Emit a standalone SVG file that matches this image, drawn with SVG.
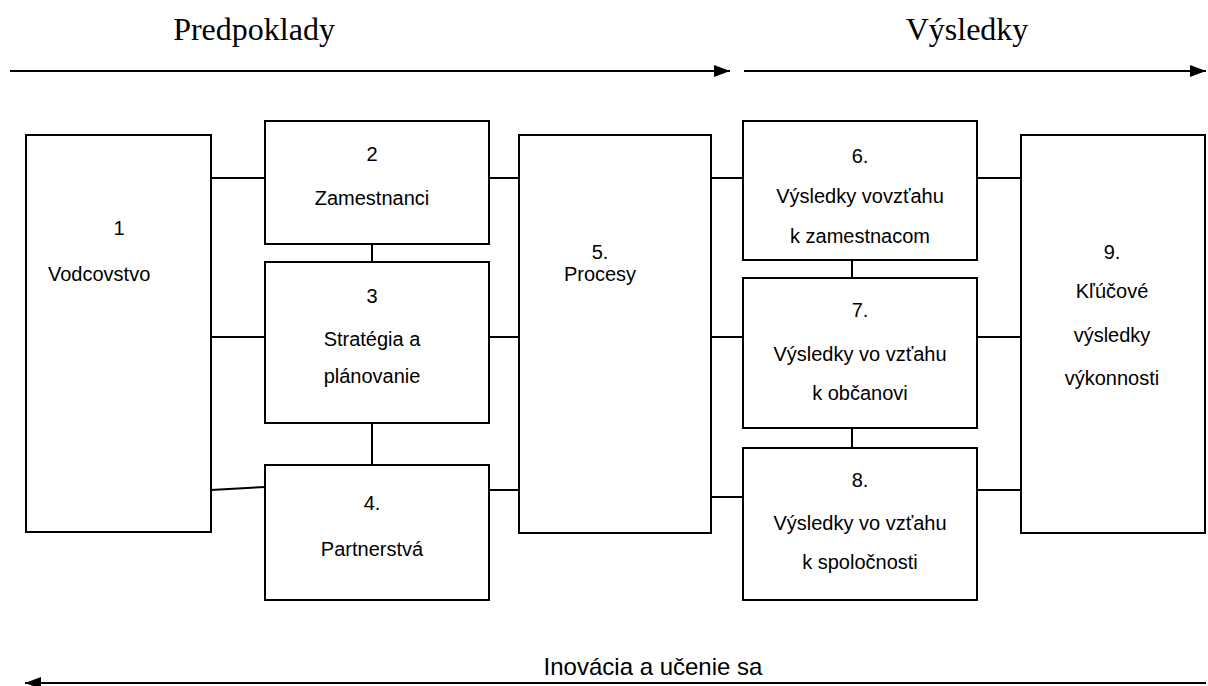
<svg xmlns="http://www.w3.org/2000/svg" width="1208" height="686" viewBox="0 0 1208 686">
<defs>
<style>
.box{fill:#fff;stroke:#000;stroke-width:2}
.ln{stroke:#000;stroke-width:2;fill:none}
.t{font-family:"Liberation Sans",Arial,sans-serif;font-size:20px;fill:#000;text-anchor:middle}
.h{font-family:"Liberation Serif","Times New Roman",serif;font-size:32px;fill:#000;text-anchor:middle}
</style>
<marker id="ah" viewBox="0 0 16 12" refX="16" refY="6" markerWidth="16" markerHeight="12" markerUnits="userSpaceOnUse" orient="auto">
<path d="M0,0 L16,6 L0,12 Z" fill="#000"/>
</marker>
</defs>
<rect width="1208" height="686" fill="#fff"/>
<text class="h" x="254" y="40">Predpoklady</text>
<text class="h" x="967" y="40">Výsledky</text>
<g id="connectors">
<line class="ln" x1="10" y1="71" x2="730" y2="71" marker-end="url(#ah)"/>
<line class="ln" x1="744" y1="71" x2="1206" y2="71" marker-end="url(#ah)"/>
<line class="ln" x1="1206" y1="683" x2="25" y2="683" marker-end="url(#ah)"/>
<line class="ln" x1="211" y1="178" x2="265" y2="178"/>
<line class="ln" x1="211" y1="337" x2="265" y2="337"/>
<line class="ln" x1="211" y1="490" x2="265" y2="487"/>
<line class="ln" x1="372" y1="244" x2="372" y2="262"/>
<line class="ln" x1="372" y1="423" x2="372" y2="465"/>
<line class="ln" x1="489" y1="178" x2="519" y2="178"/>
<line class="ln" x1="489" y1="337" x2="519" y2="337"/>
<line class="ln" x1="489" y1="490" x2="519" y2="490"/>
<line class="ln" x1="711" y1="178" x2="743" y2="178"/>
<line class="ln" x1="711" y1="337" x2="743" y2="337"/>
<line class="ln" x1="711" y1="497" x2="743" y2="497"/>
<line class="ln" x1="852" y1="260" x2="852" y2="278"/>
<line class="ln" x1="852" y1="428" x2="852" y2="448"/>
<line class="ln" x1="977" y1="178" x2="1021" y2="178"/>
<line class="ln" x1="977" y1="337" x2="1021" y2="337"/>
<line class="ln" x1="977" y1="490" x2="1021" y2="490"/>
</g>
<g id="n1"><rect class="box" x="26" y="135" width="185" height="397"/>
<text class="t" x="119" y="235">1</text><text class="t" x="48" y="281" style="text-anchor:start">Vodcovstvo</text></g>
<g id="n2"><rect class="box" x="265" y="121" width="224" height="123"/>
<text class="t" x="372" y="161">2</text><text class="t" x="372" y="205">Zamestnanci</text></g>
<g id="n3"><rect class="box" x="265" y="262" width="224" height="161"/>
<text class="t" x="372" y="303">3</text><text class="t" x="372" y="346">Stratégia a</text><text class="t" x="372" y="383">plánovanie</text></g>
<g id="n4"><rect class="box" x="265" y="465" width="224" height="135"/>
<text class="t" x="372" y="510">4.</text><text class="t" x="372" y="556">Partnerstvá</text></g>
<g id="n5"><rect class="box" x="519" y="135" width="192" height="398"/>
<text class="t" x="600" y="259">5.</text><text class="t" x="600" y="281">Procesy</text></g>
<g id="n6"><rect class="box" x="743" y="121" width="234" height="139"/>
<text class="t" x="860" y="163">6.</text><text class="t" x="860" y="203">Výsledky vovzťahu</text><text class="t" x="860" y="243">k zamestnacom</text></g>
<g id="n7"><rect class="box" x="743" y="278" width="234" height="150"/>
<text class="t" x="860" y="317">7.</text><text class="t" x="860" y="361">Výsledky vo vzťahu</text><text class="t" x="860" y="400">k občanovi</text></g>
<g id="n8"><rect class="box" x="743" y="448" width="234" height="152"/>
<text class="t" x="860" y="487">8.</text><text class="t" x="860" y="530">Výsledky vo vzťahu</text><text class="t" x="860" y="569">k spoločnosti</text></g>
<g id="n9"><rect class="box" x="1021" y="135" width="184" height="398"/>
<text class="t" x="1112" y="259">9.</text><text class="t" x="1112" y="298">Kľúčové</text><text class="t" x="1112" y="342">výsledky</text><text class="t" x="1112" y="385">výkonnosti</text></g>
<text class="t" x="653" y="675" style="font-size:24px">Inovácia a učenie sa</text>
</svg>
